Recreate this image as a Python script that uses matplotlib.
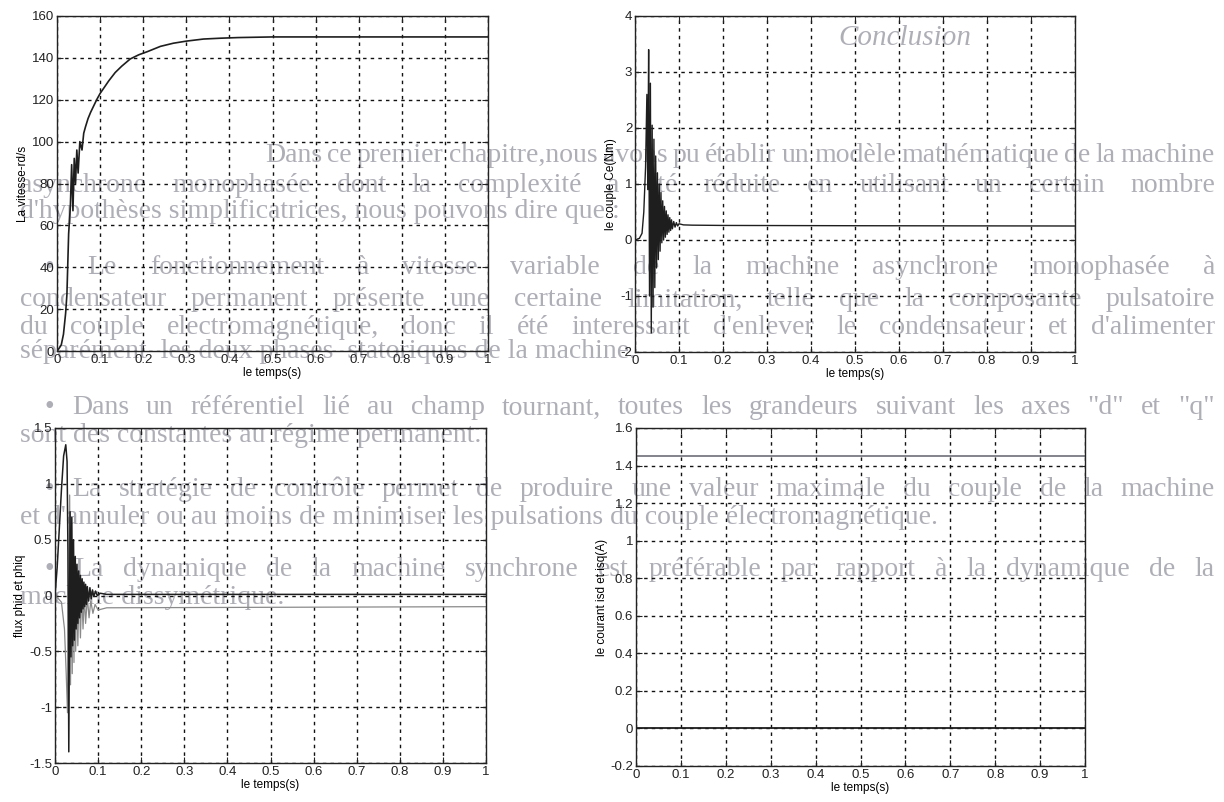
import numpy as np
import matplotlib
matplotlib.use("Agg")
import matplotlib.pyplot as plt

## data
speed_t = [0, 0.004, 0.010, 0.015, 0.020, 0.023, 0.027, 0.031, 0.034, 0.037,
           0.040, 0.043, 0.046, 0.049, 0.053, 0.058, 0.062, 0.066, 0.072, 0.078,
           0.085, 0.092, 0.10, 0.11, 0.12, 0.135, 0.15, 0.17, 0.19, 0.21,
           0.24, 0.27, 0.30, 0.34, 0.38, 0.42, 0.5, 0.6, 1.0]
speed = [0, 1, 3, 8, 18, 27, 56, 69, 89, 67,
         92, 80, 96, 85, 100, 96, 104, 107, 111, 114,
         117, 120, 123, 126, 129, 133, 136, 139.5, 141.5, 143,
         145.5, 147, 148, 149, 149.4, 149.7, 150, 150, 150]

torque_t = [0, 0.010, 0.016, 0.020, 0.024, 0.027, 0.029, 0.031, 0.033, 0.035,
            0.037, 0.039, 0.041, 0.043, 0.045, 0.047, 0.049, 0.051, 0.053, 0.055,
            0.057, 0.059, 0.061, 0.063, 0.065, 0.067, 0.069, 0.071, 0.073, 0.075,
            0.077, 0.079, 0.081, 0.083, 0.085, 0.088, 0.091, 0.094, 0.097, 0.10,
            0.11, 0.13, 0.2, 0.5, 1.0]
torque = [0, 0.03, 0.12, 0.5, 1.3, 2.6, 0.9, 3.4, -1.0, 2.8,
          -1.66, 2.05, -1.2, 1.8, -0.85, 1.5, -0.5, 1.2, -0.35, 1.0,
          -0.2, 0.85, -0.05, 0.7, 0.0, 0.6, 0.05, 0.52, 0.1, 0.45,
          0.14, 0.4, 0.17, 0.36, 0.2, 0.33, 0.23, 0.31, 0.25, 0.29,
          0.27, 0.265, 0.26, 0.255, 0.25]

phid_t = [0, 0.005, 0.010, 0.015, 0.020, 0.025, 0.028, 0.030, 0.032, 0.035,
          0.037, 0.039, 0.041, 0.043, 0.045, 0.047, 0.049, 0.051, 0.053, 0.055,
          0.057, 0.059, 0.061, 0.063, 0.065, 0.067, 0.069, 0.071, 0.073, 0.075,
          0.078, 0.081, 0.084, 0.087, 0.090, 0.094, 0.098, 0.105, 0.12, 1.0]
phid = [0, 0.25, 0.6, 0.95, 1.25, 1.35, 1.2, 0.4, -1.4, 0.75,
        -0.55, 0.7, -0.45, 0.5, -0.4, 0.35, -0.3, 0.28, -0.25, 0.22,
        -0.2, 0.18, -0.15, 0.15, -0.12, 0.12, -0.1, 0.1, -0.08, 0.08,
        -0.05, 0.07, -0.03, 0.05, -0.01, 0.04, 0.0, 0.02, 0.01, 0.01]

phiq_t = [0, 0.008, 0.015, 0.022, 0.026, 0.029, 0.031, 0.034, 0.036, 0.038,
          0.040, 0.042, 0.044, 0.046, 0.048, 0.050, 0.053, 0.056, 0.059, 0.062,
          0.065, 0.068, 0.071, 0.075, 0.079, 0.083, 0.088, 0.093, 0.10, 0.12,
          1.0]
phiq = [0, -0.03, -0.06, -0.3, -0.7, -1.05, -0.4, 0.9, -0.8, 0.6,
        -0.7, 0.45, -0.6, 0.3, -0.5, 0.2, -0.45, 0.12, -0.38, 0.05,
        -0.3, 0.0, -0.25, -0.02, -0.2, -0.05, -0.16, -0.08, -0.13, -0.11,
        -0.1]

cur_t = [0, 0, 1]
isd = [0, 1.45, 1.45]
isq = [0, 0, 0]

xticks = [0, 0.1, 0.2, 0.3, 0.4, 0.5, 0.6, 0.7, 0.8, 0.9, 1]
xtick_labels = ["0", "0.1", "0.2", "0.3", "0.4", "0.5", "0.6", "0.7", "0.8", "0.9", "1"]
speed_ticks = [0, 20, 40, 60, 80, 100, 120, 140, 160]
torque_ticks = [-2, -1, 0, 1, 2, 3, 4]
flux_ticks = [-1.5, -1, -0.5, 0, 0.5, 1, 1.5]
flux_labels = ["-1.5", "-1", "-0.5", "0", "0.5", "1", "1.5"]
cur_ticks = [-0.2, 0, 0.2, 0.4, 0.6, 0.8, 1, 1.2, 1.4, 1.6]
cur_labels = ["-0.2", "0", "0.2", "0.4", "0.6", "0.8", "1", "1.2", "1.4", "1.6"]

# bleed-through text of the scanned page: (text, x_left, x_right or None, y) in pixels
page_lines = [
    ("Dans ce premier chapitre,nous avons pu établir un modèle mathématique de la machine", 265, 1215, 155),
    ("asynchrone monophasée dont la complexité a été réduite en utilisant un certain nombre", 20, 1215, 185),
    ("d'hypothèses simplificatrices, nous pouvons dire que :", 20, None, 212),
    ("•  Le fonctionnement à vitesse variable de la machine asynchrone monophasée à", 45, 1215, 268),
    ("condensateur permanent  présente une certaine limitation, telle que la composante pulsatoire", 20, 1215, 300),
    ("du couple electromagnétique, donc il été interessant d'enlever le condensateur et d'alimenter", 20, 1215, 327),
    ("séparément  les deux phases  statoriques de la machine.", 20, None, 352),
    ("•  Dans un référentiel lié au champ tournant, toutes les grandeurs suivant les axes \"d\" et \"q\"", 45, 1215, 408),
    ("sont des constantes au régime permanent.", 20, None, 435),
    ("•  La stratégie de contrôle permet de produire une valeur maximale du couple de la machine", 45, 1215, 490),
    ("et d'annuler ou au moins de minimiser les pulsations du couple électromagnétique.", 20, None, 517),
    ("•  La dynamique de la machine synchrone est préférable par rapport à la dynamique de la", 45, 1215, 570),
    ("machine dissymétrique.", 20, None, 598),
]

W, H = 1224, 802
fig = plt.figure(figsize=(W / 100, H / 100), dpi=100)
fig.patch.set_facecolor("white")
page_col = "#aeaeb7"
page_size = 20

renderer = fig.canvas.get_renderer()
for line, x0, x1, y in page_lines:
    yf = 1 - y / H
    if x1 is None:
        fig.text(x0 / W, yf, line, family="Liberation Serif", fontsize=page_size,
                 color=page_col, va="center", ha="left", zorder=-5)
        continue
    words = line.split()
    objs = [fig.text(0, yf, w, family="Liberation Serif", fontsize=page_size,
                     color=page_col, va="center", ha="left", zorder=-5) for w in words]
    widths = [o.get_window_extent(renderer).width for o in objs]
    gap = (x1 - x0 - sum(widths)) / (len(words) - 1)
    x = x0
    for o, w in zip(objs, widths):
        o.set_x(x / W)
        x += w + gap

fig.text(838 / W, 1 - 38 / H, "Conclusion", family="Liberation Serif", style="italic",
         fontsize=21, color=page_col, va="center", ha="left", zorder=-5)

# axes boxes in pixels: left, top, right, bottom
boxes = [(57, 16, 488, 351), (635, 16, 1075, 352), (55, 428, 486, 763), (636, 428, 1085, 766)]
axs = []
for l, t, r, b in boxes:
    ax = fig.add_axes([l / W, 1 - b / H, (r - l) / W, (b - t) / H])
    ax.set_facecolor("none")
    axs.append(ax)

ax1, ax2, ax3, ax4 = axs
ax1.plot(speed_t, speed, color="#1e1e1e", lw=1.2)
ax2.plot(torque_t, torque, color="#1e1e1e", lw=1.0)
ax3.plot(phiq_t, phiq, color="#8a8a8a", lw=0.9)
ax3.plot(phid_t, phid, color="#1e1e1e", lw=1.1)
ax4.plot(cur_t, isd, color="#7a7a84", lw=1.3)
ax4.plot(cur_t, isq, color="#1e1e1e", lw=1.3)

setups = [
    (ax1, speed_ticks, [str(v) for v in speed_ticks], (0, 160), "La vitesse-rd/s"),
    (ax2, torque_ticks, [str(v) for v in torque_ticks], (-2, 4), "le couple Ce(Nm)"),
    (ax3, flux_ticks, flux_labels, (-1.5, 1.5), "flux phid et phiq"),
    (ax4, cur_ticks, cur_labels, (-0.2, 1.6), "le courant isd et isq(A)"),
]
for ax, yt, yl, ylim, lab in setups:
    ax.set_xlim(0, 1)
    ax.set_ylim(*ylim)
    ax.set_xticks(xticks)
    ax.set_xticklabels(xtick_labels, family="Liberation Sans", fontsize=9.5)
    ax.set_yticks(yt)
    ax.set_yticklabels(yl, family="Liberation Sans", fontsize=9.5)
    ax.tick_params(direction="in", top=True, right=True, length=4, width=0.8, pad=2, colors="#222222")
    ax.grid(True, color="#111111", linestyle=(0, (2.5, 3)), linewidth=1.0)
    for s in ax.spines.values():
        s.set_linewidth(1.0)
        s.set_color("#222222")
    ax.set_xlabel("le temps(s)", family="Liberation Sans", fontsize=8.5, labelpad=1)
    ax.set_ylabel(lab, family="Liberation Sans", fontsize=8.5, labelpad=2)

fig.savefig("out.png", dpi=100)
